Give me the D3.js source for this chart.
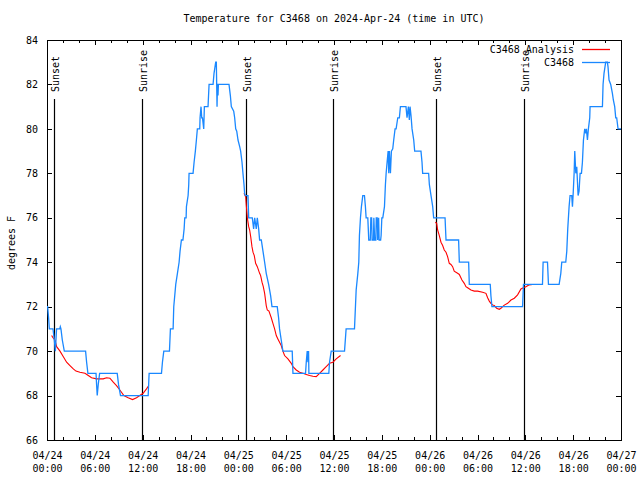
<!DOCTYPE html>
<html>
<head>
<meta charset="utf-8">
<script src="https://cdn.jsdelivr.net/npm/d3@7"></script>
<style>
  body { margin: 0; background: #fff; }
  svg { display: block; }
  text { font-family: "DejaVu Sans Mono", "Liberation Mono", monospace; font-size: 10px; fill: #000; }
</style>
</head>
<body>
<svg id="chart" width="640" height="480"></svg>
<script>
// ---------------- data ----------------
const titleText = "Temperature for C3468 on 2024-Apr-24 (time in UTC)";
const yLabel = "degrees F";
const startUTC = Date.UTC(2024, 3, 24, 0, 0);
const yTicks = [66, 68, 70, 72, 74, 76, 78, 80, 82, 84];
const sunsetHours = [0.91, 24.94, 48.85];
const sunriseHours = [11.93, 35.85, 59.86];
const legendNames = ["C3468 Analysis", "C3468"];

// observed temperature (hours since 04/24 00:00 UTC, degrees F)
const obsHours = [0.00,0.08,0.2,0.29,0.67,0.75,0.92,1.05,1.2,1.6,1.67,1.75,1.92,2.17,4.84,4.97,5.13,6.15,6.22,6.30,6.43,6.6,8.81,8.97,9.22,12.69,12.81,14.36,14.48,14.65,15.36,15.48,15.82,15.90,16.15,16.36,16.57,16.69,16.86,17.05,17.2,17.28,17.45,17.49,17.7,17.78,17.82,18.32,18.45,18.61,18.74,18.86,19.16,19.2,19.32,19.41,19.5,19.66,19.74,20.2,20.33,20.83,20.95,21.16,21.24,21.33,21.38,21.41,21.45,21.5,22.83,23.0,23.12,23.42,23.54,23.67,23.8,23.96,24.17,24.29,24.46,24.58,24.71,24.79,24.88,25.21,25.3,25.75,25.92,26.05,26.25,26.38,26.55,26.67,26.88,27.09,27.3,27.5,27.8,28.05,28.22,28.88,29.05,29.17,29.38,29.59,30.76,30.85,32.43,32.52,32.64,32.73,32.81,32.85,35.35,35.44,35.65,37.32,37.52,38.57,38.69,38.78,38.99,39.11,39.19,39.32,39.44,39.61,39.82,39.94,40.03,40.24,40.36,40.55,40.62,40.72,40.78,40.95,41.0,41.1,41.25,41.3,41.42,41.48,41.6,41.66,41.85,41.91,42.0,42.12,42.33,42.45,42.54,42.66,42.79,42.87,42.95,43.08,43.2,43.37,43.49,43.66,43.79,44.0,44.2,44.33,45.03,45.16,45.33,45.45,45.54,45.66,45.79,46.0,46.12,46.91,47.04,47.12,47.87,47.96,48.17,48.38,48.5,49.93,50.05,51.63,51.72,52.89,52.97,55.6,55.68,55.81,59.65,59.77,62.15,62.23,62.78,62.9,64.24,64.45,64.57,65.07,65.2,65.32,65.49,65.61,65.82,65.91,65.99,66.12,66.2,66.33,66.45,66.62,66.74,66.87,67.04,67.16,67.29,67.45,67.58,67.66,67.79,67.91,68.08,68.12,69.67,69.75,69.87,70.08,70.29,70.37,70.5,70.71,70.92,71.04,71.21,71.34,71.46,71.63,71.75,72.0];
const obsTemps = [72,72,71.5,71,71,71,70.5,70,71,71,71.1,71,70.5,70,70,69.5,69,69,68.5,68,68.5,69,69,68.5,68,68,69,69,69.5,70,70,71,71,72,73,73.5,74,74.5,75,75,75.5,76,76,76.5,77,77.5,78,78,78.5,79,79.5,80,80,80.5,81,80.5,80.5,80,81,81,82,82,82.5,83,83,81,82,82,81.5,82,82,81.5,81,80.8,80.5,80,79.9,79.5,79.2,79,78.5,78,77.5,77.1,77,77,76,76,75.5,76,75.5,76,75.5,75,75,74.5,74,73.5,73,72.5,72,72,71.5,71,70.5,70,70,69,69,69.5,70,69.5,70,69,69,69.5,70,70,71,71,72,72.75,73.5,74,75.2,76,76.5,77,77,76.5,76,76,75,75,76,76,75,75,76,75,75,76,76,75,76,75,75,75.2,76,76,76.5,77.5,78,78.5,79,78,79,78,79,79.1,79.5,80,80,80.5,80.5,81,81,80.5,81,80.4,81,80.6,80,79.5,79,79,78.5,78,78,77.5,77,76.5,76,76,75,75,74,74,73,73,72.5,72,72,73,73,74,74,73,73,73.5,74,74,74.5,75.5,76.5,77,77,76.5,77,78,79,78,78.3,77,77.2,78,78,78.5,79.5,80,79.8,80,79.5,80,80.5,81,81,82,82.5,83,83,82.8,82.2,82,81.6,81.3,81,80.5,80.5,80,80,80];

// analysis series: three night-time segments
const anaHours1 = [0.58,0.75,1.0,1.21,1.63,2.05,2.46,2.88,3.3,3.63,4.13,4.76,5.18,5.59,6.22,7.05,7.47,7.89,8.31,8.72,9.14,9.64,10.18,10.73,11.23,11.64,12.06,12.48,12.77];
const anaTemps1 = [70.7,70.6,70.5,70.2,70.0,69.75,69.5,69.35,69.2,69.1,69.05,69.0,68.9,68.8,68.75,68.75,68.8,68.78,68.6,68.45,68.25,68.0,67.9,67.82,67.9,68.0,68.1,68.3,68.45];
const anaHours2 = [24.71,24.92,25.0,25.13,25.3,25.42,25.55,25.71,25.84,26.0,26.17,26.38,26.67,26.8,26.97,27.13,27.3,27.5,27.63,27.84,28.13,28.34,28.55,28.76,28.96,29.17,29.38,29.59,29.8,30.22,30.64,30.85,31.26,31.68,32.1,32.52,32.94,33.35,33.77,34.19,34.61,35.02,35.44,35.86,36.28,36.82];
const anaTemps2 = [77.1,76.95,76.55,76.0,75.6,75.45,75.15,74.7,74.45,74.3,73.95,73.8,73.5,73.4,73.1,72.9,72.6,72.05,71.85,71.8,71.5,71.25,71.0,70.7,70.55,70.4,70.25,70.0,69.8,69.65,69.45,69.3,69.15,69.05,69.0,68.95,68.9,68.87,68.85,69.0,69.15,69.3,69.45,69.5,69.65,69.8];
const anaHours3 = [48.71,48.88,49.0,49.21,49.42,49.63,49.83,50.05,50.25,50.46,50.67,50.88,51.08,51.5,51.72,52.05,52.34,52.55,52.76,53.18,53.6,54.02,54.64,55.06,55.27,55.48,55.68,55.89,56.1,56.4,56.73,56.94,57.36,57.78,58.2,58.62,59.03,59.45,59.74,60.07,60.49,60.91];
const anaTemps3 = [75.8,75.75,75.45,75.2,74.9,74.75,74.55,74.45,74.25,73.95,73.9,73.8,73.6,73.5,73.45,73.2,73.05,72.9,72.85,72.75,72.7,72.7,72.65,72.6,72.4,72.25,72.15,72.08,72.05,71.93,71.88,71.93,72.07,72.15,72.3,72.38,72.53,72.8,72.85,72.9,72.98,73.0];

// ---------------- chart ----------------
(function draw() {
const svg = d3.select("#chart");
const pL = 47, pR = 621, pT = 40, pB = 440;
const hourToDate = h => new Date(startUTC + h * 3600000);
const x = d3.scaleUtc().domain([hourToDate(0), hourToDate(72)]).range([pL, pR]);
const y = d3.scaleLinear().domain([66, 84]).range([pB, pT]);

const minorTicks = d3.utcHour.every(2).range(hourToDate(0), hourToDate(72.01));
const majorTicks = d3.utcHour.every(6).range(hourToDate(0), hourToDate(72.01));

// axes (ticks inward, mirrored)
const gAx = svg.append("g").attr("shape-rendering", "crispEdges");
gAx.append("g").attr("transform", `translate(0,${pB})`)
  .call(d3.axisBottom(x).tickValues(minorTicks).tickSizeInner(-3).tickSizeOuter(0).tickFormat(""));
gAx.append("g").attr("transform", `translate(0,${pT})`)
  .call(d3.axisTop(x).tickValues(minorTicks).tickSizeInner(-3).tickSizeOuter(0).tickFormat(""));
gAx.append("g").attr("transform", `translate(0,${pT})`)
  .call(d3.axisTop(x).tickValues(majorTicks).tickSizeInner(-5).tickSizeOuter(0).tickFormat(""));
const xMajor = gAx.append("g").attr("transform", `translate(0,${pB})`)
  .call(d3.axisBottom(x).tickValues(majorTicks).tickSizeInner(-5).tickSizeOuter(0).tickFormat(""));
xMajor.selectAll(".tick").each(function(d) {
  const t = d3.select(this).append("text").attr("text-anchor", "middle").attr("fill", "#000");
  t.append("tspan").attr("x", 0).attr("y", 18.5).text(d3.utcFormat("%m/%d")(d));
  t.append("tspan").attr("x", 0).attr("y", 32).text(d3.utcFormat("%H:%M")(d));
});
const yL = gAx.append("g").attr("transform", `translate(${pL},0)`)
  .call(d3.axisLeft(y).tickValues(yTicks).tickSizeInner(-5).tickSizeOuter(0).tickPadding(9).tickFormat(d3.format("d")));
gAx.append("g").attr("transform", `translate(${pR},0)`)
  .call(d3.axisRight(y).tickValues(yTicks).tickSizeInner(-5).tickSizeOuter(0).tickFormat(""));
gAx.selectAll(".domain").remove();
gAx.selectAll(".tick line").attr("stroke", "#000");
gAx.selectAll("text").attr("font-size", "10px").attr("font-family", "DejaVu Sans Mono").attr("fill", "#000");

// frame
svg.append("rect").attr("x", pL + 0.5).attr("y", pT + 0.5)
  .attr("width", pR - pL).attr("height", pB - pT)
  .attr("fill", "none").attr("stroke", "#000").attr("stroke-width", 1);

// sunrise / sunset markers
const markers = sunsetHours.map(h => ({h, label: "Sunset"}))
  .concat(sunriseHours.map(h => ({h, label: "Sunrise"})));
const gm = svg.append("g");
markers.forEach(m => {
  const xp = Math.round(x(hourToDate(m.h))) + 0.5;
  gm.append("line").attr("x1", xp).attr("x2", xp).attr("y1", 99).attr("y2", pB)
    .attr("stroke", "#000").attr("stroke-width", 1.2);
  gm.append("text").attr("transform", `translate(${xp + 4.5},92) rotate(-90)`)
    .attr("text-anchor", "start").text(m.label);
});

// lines
const lineGen = d3.line().x(d => x(hourToDate(d[0]))).y(d => y(d[1]));
const obs = obsHours.map((h, i) => [h, obsTemps[i]]);
const anaSegments = [[anaHours1, anaTemps1], [anaHours2, anaTemps2], [anaHours3, anaTemps3]]
  .map(([hs, ts]) => hs.map((h, i) => [h, ts[i]]));

const gl = svg.append("g");
anaSegments.forEach(seg => {
  gl.append("path").datum(seg).attr("d", lineGen)
    .attr("fill", "none").attr("stroke", "#ff0000").attr("stroke-width", 1.1);
});
gl.append("path").datum(obs).attr("d", lineGen)
  .attr("fill", "none").attr("stroke", "#1a88ff").attr("stroke-width", 1.3)
  .attr("stroke-linejoin", "miter");

// title
svg.append("text").attr("x", (pL + pR) / 2).attr("y", 22)
  .attr("text-anchor", "middle").text(titleText);

// y label
svg.append("text").attr("transform", `translate(15,243) rotate(-90)`)
  .attr("text-anchor", "middle").text(yLabel);

// legend
const legColors = ["#ff0000", "#1a88ff"];
legendNames.forEach((name, i) => {
  const ly = 49.5 + i * 13;
  svg.append("text").attr("x", 574).attr("y", ly + 3.5).attr("text-anchor", "end").text(name);
  svg.append("line").attr("x1", 582).attr("x2", 610).attr("y1", ly).attr("y2", ly)
    .attr("stroke", legColors[i]).attr("stroke-width", 1.3);
});
})();
</script>
</body>
</html>
